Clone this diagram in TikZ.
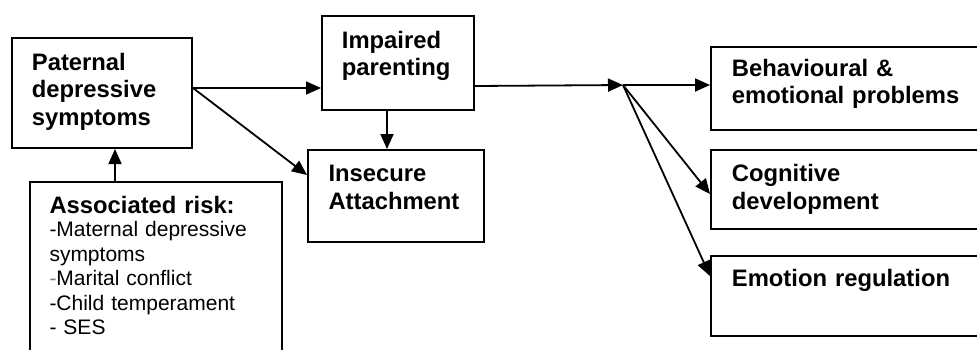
\documentclass[tikz,border=0pt]{standalone}
\usepackage{fontspec}
\setmainfont{Liberation Sans}
\usetikzlibrary{arrows.meta}
\begin{document}
\begin{tikzpicture}[x=1pt,y=-1pt,
  box/.style={draw,line width=2pt,inner sep=0pt,anchor=north west},
  conn/.style={line width=1.8pt,-{Triangle[length=15pt,width=13pt]}},
  boldtxt/.style={font=\fontsize{23.8}{27.5}\selectfont\bfseries,inner sep=0pt,anchor=base west,align=left,text width=260pt},
  regtxt/.style={font=\fontsize{21}{24.5}\selectfont,inner sep=0pt,anchor=base west,align=left,text width=260pt}]
\useasboundingbox (0,0) rectangle (977,349);
\clip (0,0) rectangle (977,349);
% boxes
\node[box,minimum width=180pt,minimum height=110pt] (pat) at (11,37) {};
\node[box,minimum width=252pt,minimum height=190pt] (risk) at (29,181) {};
\node[box,minimum width=152pt,minimum height=94pt] (imp) at (321,15) {};
\node[box,minimum width=176pt,minimum height=92pt] (ins) at (307,149) {};
\node[box,minimum width=290pt,minimum height=83pt] (beh) at (710,46) {};
\node[box,minimum width=290pt,minimum height=79pt] (cog) at (710,149) {};
\node[box,minimum width=290pt,minimum height=80pt] (emo) at (710,255) {};
% texts
\node[boldtxt] (tpat) at (31.7,70) {Paternal\\depressive\\symptoms};
\node[boldtxt] (timp) at (341.7,48) {Impaired\\parenting};
\node[boldtxt] (tins) at (328.3,181.7) {Insecure\\Attachment};
\node[boldtxt] (trisk) at (49.3,213) {Associated risk:};
\node[regtxt] (tlist) at (49.3,236.7) {-Maternal depressive\\symptoms\\{\color{gray}-}Marital conflict\\-Child temperament\\- SES};
\node[boldtxt] (tbeh) at (731.7,76) {Behavioural \&\\emotional problems};
\node[boldtxt] (tcog) at (731.7,181.7) {Cognitive\\development};
\node[boldtxt] (temo) at (731.7,286.7) {Emotion regulation};
% connectors
\coordinate (p1) at ([yshift=5pt]pat.east);
\draw[conn] (p1) -- (p1 -| imp.west);
\draw[conn] (p1) -- ([yshift=21pt]ins.west);
\coordinate (p2) at ([xshift=-11pt]imp.south);
\draw[conn] (p2) -- (p2 |- ins.north);
\coordinate (p3) at ([xshift=-41pt]risk.north);
\draw[conn] (p3) -- (p3 |- pat.south);
\coordinate (j) at (623,85);
\coordinate (p4) at ([yshift=-23pt]imp.east);
\draw[conn] (p4) -- (j);
\draw[conn] (j) -- (j -| beh.west);
\draw[conn] (j) -- ([yshift=-4.5pt]cog.west);
\draw[conn] (j) -- ([yshift=20pt]emo.west);
\end{tikzpicture}
\end{document}
